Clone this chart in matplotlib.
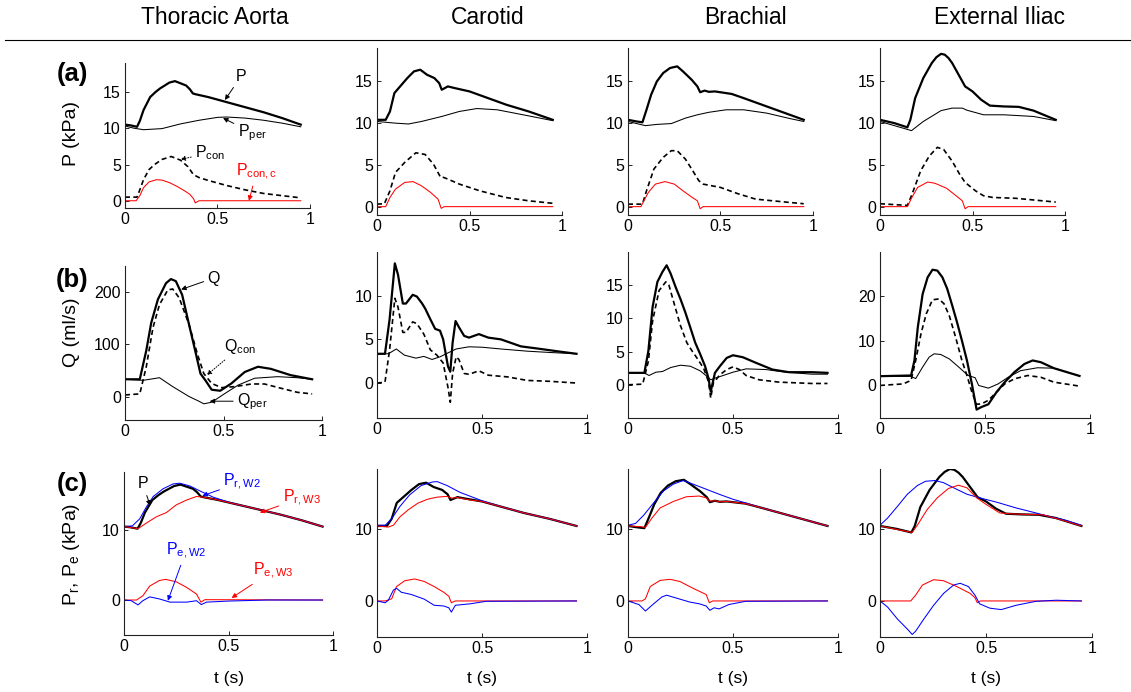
import matplotlib
matplotlib.use("Agg")
import matplotlib.pyplot as plt
from matplotlib.lines import Line2D

plt.rcParams['font.family'] = ['Liberation Sans', 'DejaVu Sans']
plt.rcParams['mathtext.fontset'] = 'custom'
plt.rcParams['mathtext.rm'] = 'Liberation Sans'
plt.rcParams['mathtext.it'] = 'Liberation Sans:italic'
plt.rcParams['mathtext.bf'] = 'Liberation Sans:bold'

# ------------------------- data -------------------------
columns = ['Thoracic Aorta', 'Carotid', 'Brachial', 'External Iliac']

# Thoracic aorta
ta_P_t = [0, 0.03, 0.065, 0.08, 0.1, 0.136, 0.165, 0.19, 0.24, 0.27, 0.3, 0.33, 0.35, 0.367, 0.38, 0.45, 0.55, 0.65, 0.75, 0.85, 0.95]
ta_P = [10.5, 10.4, 10.2, 11.0, 12.5, 14.3, 15.0, 15.5, 16.3, 16.5, 16.2, 15.9, 15.4, 14.8, 14.7, 14.3, 13.6, 12.9, 12.2, 11.4, 10.5]
ta_Pper_t = [0, 0.05, 0.1, 0.2, 0.3, 0.4, 0.5, 0.55, 0.65, 0.75, 0.85, 0.95]
ta_Pper = [10.3, 10.0, 9.8, 9.95, 10.6, 11.1, 11.5, 11.55, 11.4, 11.1, 10.7, 10.2]
ta_Pcon_t = [0, 0.065, 0.08, 0.1, 0.13, 0.16, 0.2, 0.25, 0.3, 0.34, 0.37, 0.4, 0.45, 0.55, 0.65, 0.75, 0.85, 0.95]
ta_Pcon = [0.5, 0.5, 1.5, 2.9, 4.3, 5.0, 5.7, 6.1, 5.6, 4.7, 3.6, 3.2, 2.8, 2.1, 1.5, 1.0, 0.7, 0.4]
ta_Pconc_t = [0, 0.06, 0.08, 0.1, 0.13, 0.17, 0.2, 0.24, 0.28, 0.32, 0.35, 0.37, 0.38, 0.4, 0.95]
ta_Pconc = [0, 0, 0.7, 1.8, 2.6, 2.9, 2.85, 2.5, 2.0, 1.4, 0.9, 0.3, -0.3, 0, 0]
ta_Q_t = [0, 0.075, 0.108, 0.133, 0.167, 0.208, 0.233, 0.258, 0.29, 0.325, 0.358, 0.383, 0.408, 0.44, 0.483, 0.54, 0.608, 0.675, 0.74, 0.84, 0.95]
ta_Q = [33, 33, 88, 141, 186, 217, 225, 221, 195, 138, 85, 44, 31, 13, 11, 25, 47, 57, 53, 41, 33]
ta_Qcon_t = [0, 0.075, 0.108, 0.142, 0.175, 0.217, 0.242, 0.275, 0.325, 0.367, 0.4, 0.44, 0.49, 0.558, 0.642, 0.708, 0.79, 0.875, 0.95]
ta_Qcon = [3, 5, 57, 132, 176, 204, 206, 189, 138, 82, 44, 25, 17, 19, 24, 24, 16, 8, 5]
ta_Qper_t = [0, 0.092, 0.175, 0.242, 0.325, 0.375, 0.4, 0.44, 0.508, 0.575, 0.658, 0.775, 0.875, 0.95]
ta_Qper = [33, 31, 36, 19, 0, -9, -14, -11, 6, 22, 35, 38, 36, 33]
ta_W2_t = [0, 0.04, 0.075, 0.107, 0.14, 0.187, 0.235, 0.267, 0.315, 0.363, 0.427, 0.5, 0.55, 0.65, 0.75, 0.85, 0.95]
ta_PrW2 = [10.5, 10.6, 11.6, 13.3, 14.8, 15.9, 16.6, 16.7, 16.3, 15.6, 14.7, 14.0, 13.6, 12.9, 12.2, 11.4, 10.5]
ta_W3_t = [0, 0.067, 0.107, 0.155, 0.203, 0.25, 0.3, 0.347, 0.38, 0.45, 0.55, 0.65, 0.75, 0.85, 0.95]
ta_PrW3 = [10.5, 10.2, 11.0, 11.9, 12.5, 13.6, 14.3, 14.8, 14.7, 14.3, 13.6, 12.9, 12.2, 11.4, 10.5]
ta_PeW3_t = [0, 0.06, 0.09, 0.123, 0.17, 0.2, 0.25, 0.3, 0.347, 0.368, 0.387, 0.95]
ta_PeW3 = [0, 0, 0.6, 2.0, 2.8, 2.95, 2.6, 1.8, 0.85, -0.3, 0.05, 0]
ta_PeW2_t = [0, 0.035, 0.067, 0.09, 0.123, 0.17, 0.22, 0.3, 0.347, 0.37, 0.395, 0.5, 0.683, 0.95]
ta_PeW2 = [0, -0.1, -0.7, -0.1, 0.45, 0.15, -0.3, -0.3, -0.1, -0.65, -0.3, -0.15, 0, 0]

# Carotid
ca_P_t = [0, 0.047, 0.07, 0.094, 0.125, 0.164, 0.2, 0.234, 0.27, 0.31, 0.336, 0.35, 0.383, 0.42, 0.5, 0.6, 0.7, 0.82, 0.95]
ca_P = [10.4, 10.4, 11.4, 13.6, 14.4, 15.4, 16.2, 16.4, 15.8, 15.4, 14.8, 14.0, 14.4, 14.2, 13.8, 13.0, 12.2, 11.4, 10.4]
ca_Pper_t = [0, 0.1, 0.17, 0.24, 0.35, 0.445, 0.54, 0.65, 0.79, 0.95]
ca_Pper = [10.2, 10.0, 9.9, 10.2, 10.8, 11.4, 11.75, 11.6, 11.0, 10.3]
ca_Pcon_t = [0, 0.04, 0.07, 0.1, 0.15, 0.21, 0.26, 0.305, 0.344, 0.36, 0.383, 0.445, 0.555, 0.695, 0.82, 0.95]
ca_Pcon = [0.3, 0.35, 1.9, 4.1, 5.3, 6.45, 6.25, 5.1, 3.5, 3.5, 3.3, 2.7, 1.9, 1.1, 0.7, 0.4]
ca_Pconc_t = [0, 0.047, 0.07, 0.1, 0.15, 0.195, 0.24, 0.29, 0.33, 0.347, 0.364, 0.95]
ca_Pconc = [0, 0, 1.1, 2.1, 2.9, 3.0, 2.5, 1.7, 0.9, -0.2, 0, 0]
ca_Q_t = [0, 0.038, 0.06, 0.085, 0.1, 0.123, 0.138, 0.17, 0.19, 0.215, 0.23, 0.254, 0.277, 0.3, 0.315, 0.338, 0.349, 0.36, 0.374, 0.39, 0.415, 0.438, 0.485, 0.53, 0.59, 0.685, 0.78, 0.87, 0.95]
ca_Q = [3.35, 3.35, 7.3, 13.7, 12.4, 9.1, 9.1, 10.1, 9.9, 9.1, 8.5, 7.3, 6.2, 6.0, 5.0, 1.9, 1.3, 4.6, 7.1, 6.4, 5.4, 5.2, 5.6, 5.2, 5.0, 4.2, 3.9, 3.6, 3.35]
ca_Qcon_t = [0, 0.038, 0.06, 0.085, 0.1, 0.123, 0.138, 0.17, 0.19, 0.223, 0.254, 0.285, 0.315, 0.338, 0.349, 0.36, 0.377, 0.39, 0.415, 0.438, 0.485, 0.53, 0.623, 0.715, 0.823, 0.95]
ca_Qcon = [0, 0.1, 3.8, 9.7, 8.7, 5.8, 5.8, 7.0, 6.8, 5.6, 3.8, 3.2, 2.3, -0.5, -2.2, 1.1, 3.0, 2.7, 1.1, 1.0, 1.4, 0.9, 0.7, 0.3, 0.2, 0]
ca_Qper_t = [0, 0.054, 0.092, 0.13, 0.185, 0.223, 0.262, 0.3, 0.338, 0.377, 0.438, 0.5, 0.59, 0.715, 0.823, 0.95]
ca_Qper = [3.35, 3.35, 3.9, 3.2, 2.85, 3.05, 2.7, 3.0, 3.45, 3.9, 4.15, 4.1, 3.9, 3.65, 3.5, 3.35]
ca_W2_t = [0, 0.039, 0.07, 0.109, 0.155, 0.21, 0.264, 0.287, 0.334, 0.396, 0.5, 0.6, 0.7, 0.82, 0.95]
ca_PrW2 = [10.5, 10.5, 11.4, 13.1, 14.7, 16.0, 16.5, 16.55, 16.0, 15.05, 13.9, 13.0, 12.2, 11.4, 10.4]
ca_W3_t = [0, 0.054, 0.078, 0.109, 0.147, 0.194, 0.24, 0.287, 0.334, 0.357, 0.38, 0.443, 0.5, 0.6, 0.7, 0.82, 0.95]
ca_PrW3 = [10.4, 10.25, 10.5, 11.65, 12.6, 13.55, 14.1, 14.4, 14.5, 14.25, 14.35, 14.0, 13.8, 13.0, 12.2, 11.4, 10.4]
ca_PeW3_t = [0, 0.039, 0.07, 0.093, 0.132, 0.179, 0.225, 0.272, 0.318, 0.342, 0.354, 0.373, 0.95]
ca_PeW3 = [0, 0, 0.3, 2.0, 2.8, 3.05, 2.7, 2.0, 1.2, 0.65, -0.25, 0, 0]
ca_PeW2_t = [0, 0.039, 0.054, 0.078, 0.093, 0.116, 0.163, 0.225, 0.272, 0.318, 0.342, 0.354, 0.373, 0.443, 0.52, 0.95]
ca_PeW2 = [0, -0.25, 0.1, 1.5, 1.75, 1.2, 0.9, 0.25, -0.6, -0.7, -0.95, -1.55, -0.6, -0.4, -0.05, 0]

# Brachial
br_P_t = [0, 0.047, 0.078, 0.1, 0.125, 0.156, 0.19, 0.227, 0.266, 0.297, 0.344, 0.375, 0.39, 0.414, 0.437, 0.47, 0.56, 0.625, 0.75, 0.875, 0.95]
br_P = [10.4, 10.2, 10.1, 11.6, 13.4, 15.0, 16.0, 16.6, 16.8, 16.2, 15.2, 14.4, 13.7, 13.9, 13.75, 13.8, 13.5, 13.0, 12.0, 11.0, 10.4]
br_Pper_t = [0, 0.094, 0.156, 0.234, 0.31, 0.375, 0.437, 0.53, 0.625, 0.75, 0.875, 0.95]
br_Pper = [10.2, 9.7, 9.85, 9.95, 10.6, 11.0, 11.3, 11.6, 11.6, 11.2, 10.55, 10.2]
br_Pcon_t = [0, 0.078, 0.1, 0.14, 0.19, 0.234, 0.266, 0.31, 0.35, 0.383, 0.406, 0.5, 0.594, 0.69, 0.875, 0.95]
br_Pcon = [0.3, 0.3, 1.9, 4.5, 5.9, 6.7, 6.7, 5.7, 4.3, 3.1, 2.7, 2.3, 1.55, 0.9, 0.5, 0.35]
br_Pconc_t = [0, 0.07, 0.086, 0.11, 0.148, 0.2, 0.25, 0.297, 0.344, 0.375, 0.39, 0.406, 0.95]
br_Pconc = [0, 0, 0.7, 1.7, 2.7, 3.0, 2.7, 1.9, 1.15, 0.7, -0.25, 0, 0]
br_Q_t = [0, 0.078, 0.097, 0.117, 0.14, 0.164, 0.184, 0.203, 0.227, 0.25, 0.273, 0.297, 0.32, 0.344, 0.367, 0.383, 0.394, 0.403, 0.414, 0.4375, 0.47, 0.5, 0.547, 0.61, 0.6875, 0.766, 0.875, 0.95]
br_Q = [1.8, 1.8, 5.1, 11.7, 15.5, 17.0, 18.0, 16.75, 14.7, 12.9, 10.9, 8.6, 6.35, 4.6, 2.8, 1.0, -1.0, 0.25, 1.8, 2.8, 4.05, 4.45, 4.15, 3.3, 2.3, 1.9, 1.9, 1.8]
br_Qcon_t = [0, 0.07, 0.097, 0.117, 0.148, 0.18, 0.195, 0.22, 0.25, 0.28, 0.305, 0.328, 0.36, 0.383, 0.394, 0.406, 0.4375, 0.47, 0.5, 0.53, 0.5625, 0.625, 0.72, 0.875, 0.95]
br_Qcon = [0, 0.1, 3.55, 9.6, 14.2, 15.5, 15.0, 12.2, 8.9, 6.35, 5.1, 4.05, 2.5, 0.5, -2.0, 0.25, 1.5, 2.3, 2.7, 2.3, 1.4, 0.75, 0.4, 0.2, 0.2]
br_Qper_t = [0, 0.078, 0.1, 0.133, 0.164, 0.203, 0.25, 0.297, 0.344, 0.375, 0.394, 0.414, 0.453, 0.5, 0.5625, 0.656, 0.75, 0.875, 0.95]
br_Qper = [1.8, 1.8, 1.4, 1.9, 2.0, 2.6, 2.95, 2.8, 2.1, 1.3, 0.75, 1.0, 1.4, 1.9, 2.4, 2.3, 1.9, 1.6, 1.6]
br_W2_t = [0, 0.036, 0.075, 0.122, 0.169, 0.216, 0.2625, 0.31, 0.372, 0.434, 0.5, 0.56, 0.625, 0.75, 0.875, 0.95]
br_PrW2 = [10.5, 10.75, 11.9, 13.6, 15.25, 16.2, 16.7, 16.2, 15.5, 14.8, 14.1, 13.6, 13.0, 12.0, 11.0, 10.4]
br_W3_t = [0, 0.06, 0.083, 0.114, 0.153, 0.216, 0.278, 0.34, 0.372, 0.3875, 0.414, 0.437, 0.47, 0.56, 0.625, 0.75, 0.875, 0.95]
br_PrW3 = [10.4, 10.3, 10.2, 11.5, 12.9, 13.8, 14.45, 14.55, 14.3, 13.85, 13.9, 13.75, 13.8, 13.5, 13.0, 12.0, 11.0, 10.4]
br_PeW3_t = [0, 0.067, 0.083, 0.106, 0.153, 0.2, 0.247, 0.31, 0.372, 0.3875, 0.403, 0.95]
br_PeW3 = [0, 0, 0.3, 2.0, 2.85, 3.0, 2.7, 1.75, 0.9, -0.25, 0, 0]
br_PeW2_t = [0, 0.052, 0.083, 0.114, 0.161, 0.184, 0.23, 0.294, 0.34, 0.372, 0.39, 0.41, 0.434, 0.48, 0.56, 0.95]
br_PeW2 = [0, -0.5, -1.4, -0.6, 0.55, 0.8, 0.4, -0.15, -0.4, -0.7, -1.3, -0.95, -1.1, -0.5, -0.05, 0]

# External iliac
ei_P_t = [0, 0.078, 0.148, 0.164, 0.19, 0.234, 0.28, 0.305, 0.33, 0.35, 0.37, 0.39, 0.43, 0.46, 0.5, 0.547, 0.594, 0.67, 0.75, 0.83, 0.95]
ei_P = [10.4, 10.0, 9.5, 10.4, 13.0, 15.4, 17.2, 17.9, 18.3, 18.2, 17.8, 17.2, 15.6, 14.4, 13.8, 12.8, 12.1, 12.0, 11.95, 11.5, 10.4]
ei_Pper_t = [0, 0.156, 0.17, 0.234, 0.33, 0.39, 0.445, 0.47, 0.56, 0.67, 0.83, 0.95]
ei_Pper = [10.2, 9.2, 9.1, 10.2, 11.5, 11.8, 11.8, 11.55, 11.0, 11.0, 10.8, 10.3]
ei_Pcon_t = [0, 0.148, 0.17, 0.22, 0.266, 0.31, 0.344, 0.39, 0.43, 0.46, 0.516, 0.56, 0.61, 0.734, 0.83, 0.95]
ei_Pcon = [0.35, 0.15, 1.3, 4.3, 6.05, 7.1, 6.85, 5.45, 3.9, 2.9, 1.9, 1.3, 1.1, 1.0, 0.8, 0.55]
ei_Pconc_t = [0, 0.148, 0.17, 0.203, 0.258, 0.297, 0.36, 0.42, 0.445, 0.46, 0.477, 0.95]
ei_Pconc = [0, 0, 1.0, 2.3, 2.95, 2.8, 2.2, 1.15, 0.7, -0.25, 0, 0]
ei_Q_t = [0, 0.148, 0.164, 0.18, 0.203, 0.227, 0.25, 0.273, 0.297, 0.32, 0.344, 0.367, 0.39, 0.414, 0.4375, 0.46, 0.484, 0.516, 0.555, 0.594, 0.64, 0.6875, 0.727, 0.766, 0.828, 0.95]
ei_Q = [1.95, 2.1, 5.5, 13.0, 20.5, 24.3, 26.0, 25.8, 24.3, 21.7, 17.9, 14.1, 10.0, 5.5, 0.2, -5.6, -5.0, -4.4, -1.65, 0.6, 2.85, 4.7, 5.5, 5.1, 3.75, 2.0]
ei_Qcon_t = [0, 0.11, 0.148, 0.17, 0.195, 0.22, 0.25, 0.28, 0.305, 0.33, 0.36, 0.39, 0.414, 0.4375, 0.46, 0.484, 0.516, 0.555, 0.594, 0.64, 0.703, 0.766, 0.828, 0.95]
ei_Qcon = [-0.15, 0.2, 1.0, 5.5, 11.5, 16.0, 19.2, 19.4, 18.3, 15.6, 10.75, 5.5, 2.1, -1.65, -4.4, -4.3, -3.5, -1.65, 0.2, 1.35, 2.1, 1.7, 0.6, -0.3]
ei_Qper_t = [0, 0.148, 0.17, 0.203, 0.234, 0.258, 0.289, 0.33, 0.375, 0.42, 0.453, 0.47, 0.516, 0.5625, 0.61, 0.67, 0.75, 0.828, 0.95]
ei_Qper = [1.9, 1.9, 1.4, 4.0, 6.25, 7.0, 6.85, 5.85, 4.0, 2.1, 1.6, -0.15, -0.75, 0.2, 1.7, 3.2, 3.85, 3.75, 2.0]
ei_W2_t = [0, 0.036, 0.082, 0.129, 0.176, 0.215, 0.26, 0.3, 0.347, 0.41, 0.47, 0.55, 0.642, 0.736, 0.8, 0.876, 0.95]
ei_PrW2 = [10.5, 11.5, 13.1, 14.8, 16.0, 16.6, 16.7, 16.4, 15.7, 14.8, 14.3, 13.7, 12.9, 12.2, 11.7, 11.2, 10.5]
ei_W3_t = [0, 0.082, 0.152, 0.176, 0.222, 0.27, 0.323, 0.37, 0.41, 0.456, 0.5, 0.565, 0.64, 0.767, 0.86, 0.95]
ei_PrW3 = [10.4, 9.9, 9.5, 10.5, 12.65, 14.3, 15.6, 16.05, 15.7, 14.3, 13.4, 12.2, 12.05, 11.95, 11.2, 10.4]
ei_PeW3_t = [0, 0.145, 0.168, 0.2, 0.253, 0.3, 0.362, 0.425, 0.448, 0.459, 0.474, 0.95]
ei_PeW3 = [0, 0, 0.8, 2.2, 2.95, 2.8, 2.0, 1.05, 0.45, -0.25, 0, 0]
ei_PeW2_t = [0, 0.036, 0.082, 0.129, 0.152, 0.168, 0.207, 0.253, 0.3, 0.347, 0.378, 0.417, 0.448, 0.47, 0.518, 0.572, 0.642, 0.736, 0.83, 0.95]
ei_PeW2 = [0, -0.85, -2.5, -3.9, -4.65, -4.2, -2.5, -0.6, 1.05, 2.2, 2.45, 2.0, 0.8, -0.4, -1.0, -1.2, -0.6, -0.05, 0.1, 0]

# axis limits / ticks per panel
ylim_a = (-1, 19)
yticks_a = [0, 5, 10, 15]
ylim_b = [(-45, 250), (-4, 15), (-5, 20), (-7.5, 30)]
yticks_b = [[0, 100, 200], [0, 5, 10], [0, 5, 10, 15], [0, 10, 20]]
ylim_c = (-5, 18.3)
yticks_c = [0, 10]

# ------------------------------- layout ------------------------------------
W, H = 1131, 692
fig = plt.figure(figsize=(W / 100, H / 100), dpi=100)


def box(x0, x1, ytop, ybot):
    return [x0 / W, 1 - ybot / H, (x1 - x0) / W, (ybot - ytop) / H]


# pixel boxes (left, right, top, bottom)
pos_a = [(125, 310, 63, 208), (377, 562, 48, 215), (628, 813, 48, 215), (880, 1065, 48, 215)]
pos_b = [(125, 322, 266, 420), (377, 587, 252, 418), (628, 838, 252, 418), (880, 1090, 252, 418)]
pos_c = [(124, 333, 472, 635), (377, 587, 469, 637), (628, 838, 469, 637), (880, 1092, 469, 637)]
title_x = [215, 488, 745, 1000]


def style(ax, ylim, yticks):
    ax.set_xlim(0, 1)
    ax.set_ylim(*ylim)
    ax.set_xticks([0, 0.5, 1])
    ax.set_xticklabels(['0', '0.5', '1'])
    ax.set_yticks(yticks)
    for s in ['top', 'right']:
        ax.spines[s].set_visible(False)
    for s in ['left', 'bottom']:
        ax.spines[s].set_linewidth(0.8)
        ax.spines[s].set_color('#222222')
    ax.tick_params(direction='in', length=3, width=0.6, labelsize=11.5, pad=3)


THICK, THIN = 1.6, 0.75
RED, BLUE = '#ff0000', '#0000ff'

rows_a = [(ta_P_t, ta_P, ta_Pper_t, ta_Pper, ta_Pcon_t, ta_Pcon, ta_Pconc_t, ta_Pconc),
          (ca_P_t, ca_P, ca_Pper_t, ca_Pper, ca_Pcon_t, ca_Pcon, ca_Pconc_t, ca_Pconc),
          (br_P_t, br_P, br_Pper_t, br_Pper, br_Pcon_t, br_Pcon, br_Pconc_t, br_Pconc),
          (ei_P_t, ei_P, ei_Pper_t, ei_Pper, ei_Pcon_t, ei_Pcon, ei_Pconc_t, ei_Pconc)]
rows_b = [(ta_Q_t, ta_Q, ta_Qcon_t, ta_Qcon, ta_Qper_t, ta_Qper),
          (ca_Q_t, ca_Q, ca_Qcon_t, ca_Qcon, ca_Qper_t, ca_Qper),
          (br_Q_t, br_Q, br_Qcon_t, br_Qcon, br_Qper_t, br_Qper),
          (ei_Q_t, ei_Q, ei_Qcon_t, ei_Qcon, ei_Qper_t, ei_Qper)]
rows_c = [(ta_W2_t, ta_PrW2, ta_W3_t, ta_PrW3, ta_PeW3_t, ta_PeW3, ta_PeW2_t, ta_PeW2),
          (ca_W2_t, ca_PrW2, ca_W3_t, ca_PrW3, ca_PeW3_t, ca_PeW3, ca_PeW2_t, ca_PeW2),
          (br_W2_t, br_PrW2, br_W3_t, br_PrW3, br_PeW3_t, br_PeW3, br_PeW2_t, br_PeW2),
          (ei_W2_t, ei_PrW2, ei_W3_t, ei_PrW3, ei_PeW3_t, ei_PeW3, ei_PeW2_t, ei_PeW2)]

axes_a, axes_b, axes_c = [], [], []
for i in range(4):
    # (a) pressure separation
    ax = fig.add_axes(box(*pos_a[i]))
    Pt, P, Ppt, Pp, Pct, Pc, Pcct, Pcc = rows_a[i]
    ax.plot(Pt, P, color='k', lw=THICK)
    ax.plot(Ppt, Pp, color='k', lw=THIN)
    ax.plot(Pct, Pc, color='k', lw=1.2, ls=(0, (3, 2)))
    ax.plot(Pcct, Pcc, color=RED, lw=THIN)
    style(ax, ylim_a, yticks_a)
    axes_a.append(ax)

    # (b) flow separation
    ax = fig.add_axes(box(*pos_b[i]))
    Qt, Q, Qct, Qc, Qpt, Qp = rows_b[i]
    ax.plot(Qt, Q, color='k', lw=THICK)
    ax.plot(Qct, Qc, color='k', lw=1.2, ls=(0, (3, 2)))
    ax.plot(Qpt, Qp, color='k', lw=THIN)
    style(ax, ylim_b[i], yticks_b[i])
    axes_b.append(ax)

    # (c) reservoir / excess pressure
    ax = fig.add_axes(box(*pos_c[i]))
    w2t, w2, w3t, w3, e3t, e3, e2t, e2 = rows_c[i]
    ax.plot(Pt, P, color='k', lw=THICK)
    ax.plot(w2t, w2, color=BLUE, lw=THIN)
    ax.plot(w3t, w3, color=RED, lw=THIN)
    ax.plot(e3t, e3, color=RED, lw=THIN)
    ax.plot(e2t, e2, color=BLUE, lw=THIN)
    style(ax, ylim_c, yticks_c)
    axes_c.append(ax)

    # column title and time label
    fig.text(title_x[i] / W, 1 - 18 / H, columns[i], ha='center', va='center', fontsize=16.5)
    cxc = (pos_c[i][0] + pos_c[i][1]) / 2 / W
    fig.text(cxc, 1 - 679 / H, 't (s)', ha='center', va='center', fontsize=12.5)

fig.add_artist(Line2D([0.004, 1.0], [1 - 40 / H, 1 - 40 / H], transform=fig.transFigure,
                      color='k', lw=0.8))

# panel letters and y labels
for lab, yy in [('(a)', 74), ('(b)', 280), ('(c)', 484)]:
    fig.text(72 / W, 1 - yy / H, lab, ha='center', va='center', fontsize=18.5, fontweight='bold')
fig.text(72 / W, 1 - 134 / H, 'P (kPa)', rotation=90, ha='center', va='center', fontsize=14)
fig.text(72 / W, 1 - 332 / H, 'Q (ml/s)', rotation=90, ha='center', va='center', fontsize=14)
fig.text(72 / W, 1 - 554 / H, r'P$_\mathrm{r}$, P$_\mathrm{e}$ (kPa)', rotation=90,
         ha='center', va='center', fontsize=14)


def note(ax, text, xy, xytext, color='k', ls='-'):
    ax.annotate(text, xy=xy, xytext=xytext, color=color, fontsize=11.5,
                ha='left', va='center',
                arrowprops=dict(arrowstyle='-|>', color=color, lw=0.7, ls=ls,
                                mutation_scale=7, shrinkA=1, shrinkB=0))


a0, b0, c0 = axes_a[0], axes_b[0], axes_c[0]
note(a0, 'P', (0.54, 13.9), (0.6, 17.2))
note(a0, r'P$_\mathrm{per}$', (0.53, 11.4), (0.61, 9.4))
note(a0, r'P$_\mathrm{con}$', (0.3, 5.7), (0.38, 6.6), ls=':')
note(a0, r'P$_\mathrm{con,c}$', (0.67, 0.0), (0.6, 4.0), color=RED)
note(b0, 'Q', (0.285, 205), (0.42, 227))
note(b0, r'Q$_\mathrm{con}$', (0.415, 41), (0.505, 95), ls=':')
note(b0, r'Q$_\mathrm{per}$', (0.43, -9), (0.57, -9))
note(c0, 'P', (0.125, 13.5), (0.065, 16.6))
note(c0, r'P$_\mathrm{r,W2}$', (0.375, 14.9), (0.476, 16.9), color=BLUE)
note(c0, r'P$_\mathrm{r,W3}$', (0.65, 12.5), (0.76, 14.6), color=RED)
note(c0, r'P$_\mathrm{e,W2}$', (0.21, -0.1), (0.2, 7.0), color=BLUE)
note(c0, r'P$_\mathrm{e,W3}$', (0.515, 0.3), (0.617, 4.2), color=RED)

fig.savefig('out.png', dpi=100)
